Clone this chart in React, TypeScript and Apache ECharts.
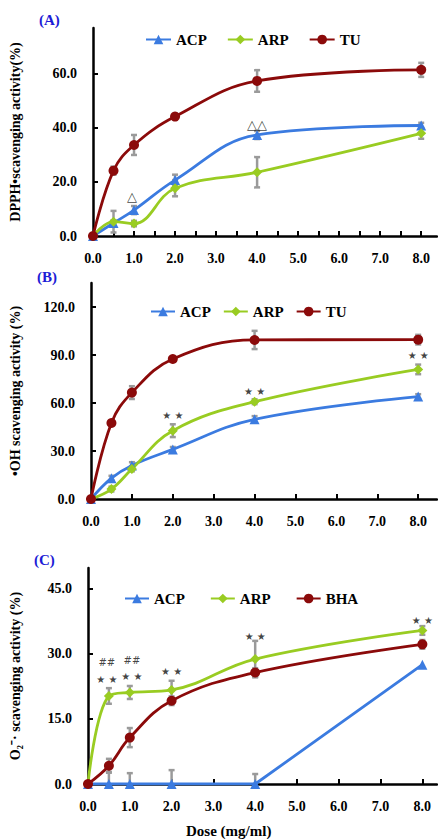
import React, { useEffect, useRef } from "react";
import * as echarts from "echarts";

const doses = [0, 0.5, 1, 2, 4, 8];

// Panel A – DPPH
const aACP = [0, 4.8, 9.6, 20.7, 37.4, 40.9];
const aARP = [0, 5.3, 4.6, 17.7, 23.6, 38.0];
const aTU = [0, 24.2, 33.7, 44.2, 57.4, 61.5];
const aACPerr = [0, 1, 1.5, 2, 1.5, 1];
const aARPerr = [0, 4, 1, 3, 5.6, 2];
const aTUerr = [0, 1.5, 3.7, 1, 4, 2.6];

// Panel B – OH
const bACP = [0, 13, 21, 31, 49.8, 64];
const bARP = [0, 6.2, 18.8, 42.7, 60.8, 81];
const bTU = [0, 47.5, 66.5, 87.5, 99.4, 99.6];
const bACPerr = [0, 1.5, 2, 1.5, 2, 1.5];
const bARPerr = [0, 1.5, 1.5, 4, 1.5, 3];
const bTUerr = [0, 1.5, 4, 1, 5.7, 3];

// Panel C – O2-
const cACP = [0, 0, 0, 0, 0, 27.5];
const cARP = [0, 20.3, 21.1, 21.7, 28.8, 35.4];
const cBHA = [0, 4.2, 10.7, 19.2, 25.7, 32.2];
const cACPerr = [0, 2.8, 2.5, 3.2, 2.3, 0];
const cARPerr = [0, 1.8, 1.5, 2.1, 4.2, 1];
const cBHAerr = [0, 1.6, 2.2, 1, 1, 1];

const annA: [number, number, string][] = [
  [0.95, 14.5, "△"],
  [4, 41.3, "△△"],
];
const annB: [number, number, string][] = [
  [2, 52, "★ ★"],
  [4, 67, "★ ★"],
  [8, 89.4, "★ ★"],
];
const annC: [number, number, string][] = [
  [0.45, 24, "★ ★"],
  [1.05, 24.8, "★ ★"],
  [2, 25.9, "★ ★"],
  [4, 33.9, "★ ★"],
  [8, 37.8, "★ ★"],
  [0.45, 27.9, "##"],
  [1.05, 28.4, "##"],
];

const yTicksA = { max: 77, interval: 20 };
const yTicksB = { max: 135, interval: 30 };
const yTicksC = { max: 49.8, interval: 15 };

const BLUE = "#3b7be0";
const GREEN = "#99cc22";
const RED = "#8b0a0a";
const GRAY = "#9a9a9a";
const FONT = "Liberation Serif";

export default function App() {
  const ref = useRef<HTMLDivElement>(null);
  useEffect(() => {
    document.body.style.margin = "0";
    const chart = echarts.init(ref.current!, null, { renderer: "svg" });

    const pair = (ys: number[]) => doses.map((d, i) => [d, ys[i]]);
    const errData = (ys: number[], es: number[]) =>
      doses.map((d, i) => [d, ys[i], es[i]]);

    const lineSeries = (
      name: string,
      ys: number[],
      idx: number,
      color: string,
      symbol: string,
      size: number,
      smooth: boolean | number = 0.4
    ) => ({
      type: "line",
      name,
      data: pair(ys),
      xAxisIndex: idx,
      yAxisIndex: idx,
      smooth,
      symbol,
      symbolSize: size,
      showAllSymbol: true,
      lineStyle: { color, width: 2.8 },
      itemStyle: { color },
      z: 3,
    });

    const errSeries = (ys: number[], es: number[], idx: number) => ({
      type: "custom",
      xAxisIndex: idx,
      yAxisIndex: idx,
      data: errData(ys, es),
      encode: { x: 0, y: 1 },
      clip: true,
      z: 2,
      silent: true,
      renderItem: (params: any, api: any) => {
        const x = api.value(0);
        const y = api.value(1);
        const e = api.value(2);
        if (!e) return null;
        const t = api.coord([x, y + e]);
        const b = api.coord([x, y - e]);
        const w = 3;
        const st = { stroke: GRAY, lineWidth: 2.5 };
        return {
          type: "group",
          children: [
            { type: "line", shape: { x1: t[0], y1: t[1], x2: b[0], y2: b[1] }, style: st },
            { type: "line", shape: { x1: t[0] - w, y1: t[1], x2: t[0] + w, y2: t[1] }, style: st },
            { type: "line", shape: { x1: b[0] - w, y1: b[1], x2: b[0] + w, y2: b[1] }, style: st },
          ],
        };
      },
    });

    const annSeries = (ann: [number, number, string][], idx: number) => ({
      type: "scatter",
      xAxisIndex: idx,
      yAxisIndex: idx,
      symbolSize: 0,
      silent: true,
      z: 5,
      data: ann.map((a) => ({
        name: a[2],
        value: [a[0], a[1]],
        label: { fontSize: a[2].includes("△") ? 13 : a[2] === "##" ? 10 : 10 },
      })),
      label: {
        show: true,
        position: "inside",
        formatter: "{b}",
        color: "#111",
        fontSize: 11,
        fontFamily: "DejaVu Sans",
      },
    });

    const mkX = (idx: number, max: number, interval: number) => ({
      type: "value",
      gridIndex: idx,
      min: 0,
      max,
      interval,
      axisLine: { show: true, lineStyle: { color: "#000", width: 2.5 } },
      axisTick: { show: true, inside: true, length: 5, lineStyle: { color: "#000", width: 2 } },
      splitLine: { show: false },
      axisLabel: {
        margin: 15,
        color: "#000",
        fontFamily: FONT,
        fontWeight: "bold",
        fontSize: 14,
        showMaxLabel: false,
        formatter: (v: number) => (Math.abs(v - Math.round(v)) < 1e-6 && v <= 8 ? v.toFixed(1) : ""),
      },
    });

    const mkY = (idx: number, cfg: { max: number; interval: number }, name: string, gap: number) => ({
      type: "value",
      gridIndex: idx,
      min: 0,
      max: cfg.max,
      interval: cfg.interval,
      name,
      nameLocation: "middle",
      nameGap: gap,
      nameTextStyle: { color: "#000", fontFamily: FONT, fontWeight: "bold", fontSize: 14 },
      axisLine: { show: true, lineStyle: { color: "#000", width: 2.5 } },
      axisTick: { show: true, inside: true, length: 5, lineStyle: { color: "#000", width: 2 } },
      splitLine: { show: false },
      axisLabel: {
        margin: 16,
        color: "#000",
        fontFamily: FONT,
        fontWeight: "bold",
        fontSize: 14,
        showMaxLabel: false,
        formatter: (v: number) => (Math.abs(v / cfg.interval - Math.round(v / cfg.interval)) < 1e-6 ? v.toFixed(1) : ""),
      },
    });

    const legendText = { color: "#000", fontFamily: FONT, fontWeight: "bold", fontSize: 15 };

    chart.setOption({
      animation: false,
      backgroundColor: "#fff",
      grid: [
        { left: 89, right: 1, top: 28, bottom: 839 - 236 },
        { left: 87, right: 1, top: 283, bottom: 839 - 499 },
        { left: 81, right: 1, top: 568, bottom: 839 - 784 },
      ],
      xAxis: [mkX(0, 8.385, 0.5), mkX(1, 8.46, 1), mkX(2, 8.35, 1)],
      yAxis: [
        mkY(0, yTicksA, "DPPH•scavenging activity(%)", 71),
        mkY(1, yTicksB, "•OH scavenging activity (%)", 69),
        mkY(2, yTicksC, "O₂⁻· scavenging activity (%)", 66),
      ],
      legend: [
        { data: ["ACP", "ARP", "TU"], left: 140, top: 27, itemGap: 20, itemWidth: 25, itemHeight: 12, textStyle: legendText },
        { data: ["ACP", "ARP", "TU"], left: 145, top: 299, itemGap: 12, itemWidth: 24, itemHeight: 12, textStyle: legendText },
        { data: ["ACP", "ARP", "BHA"], left: 119, top: 586, itemGap: 25, itemWidth: 24, itemHeight: 12, textStyle: legendText },
      ],
      graphic: [
        { type: "text", left: 39, top: 12, style: { text: "(A)", fill: "#1c1cd6", font: `bold 15px "${FONT}"` } },
        { type: "text", left: 37, top: 269, style: { text: "(B)", fill: "#1c1cd6", font: `bold 15px "${FONT}"` } },
        { type: "text", left: 34, top: 552, style: { text: "(C)", fill: "#1c1cd6", font: `bold 15px "${FONT}"` } },
        { type: "text", left: 186, top: 823, style: { text: "Dose (mg/ml)", fill: "#000", font: `bold 15px "${FONT}"` } },
      ],
      series: [
        errSeries(aACP, aACPerr, 0),
        errSeries(aARP, aARPerr, 0),
        errSeries(aTU, aTUerr, 0),
        lineSeries("ACP", aACP, 0, BLUE, "triangle", 10),
        lineSeries("ARP", aARP, 0, GREEN, "diamond", 10),
        lineSeries("TU", aTU, 0, RED, "circle", 10),
        annSeries(annA, 0),

        errSeries(bACP, bACPerr, 1),
        errSeries(bARP, bARPerr, 1),
        errSeries(bTU, bTUerr, 1),
        lineSeries("ACP", bACP, 1, BLUE, "triangle", 10),
        lineSeries("ARP", bARP, 1, GREEN, "diamond", 10),
        lineSeries("TU", bTU, 1, RED, "circle", 10),
        annSeries(annB, 1),

        errSeries(cACP, cACPerr, 2),
        errSeries(cARP, cARPerr, 2),
        errSeries(cBHA, cBHAerr, 2),
        lineSeries("ACP", cACP, 2, BLUE, "triangle", 10, false),
        lineSeries("ARP", cARP, 2, GREEN, "diamond", 10),
        lineSeries("BHA", cBHA, 2, RED, "circle", 10),
        annSeries(annC, 2),
      ],
    });
    return () => chart.dispose();
  }, []);
  return <div ref={ref} style={{ width: 438, height: 839 }} />;
}
